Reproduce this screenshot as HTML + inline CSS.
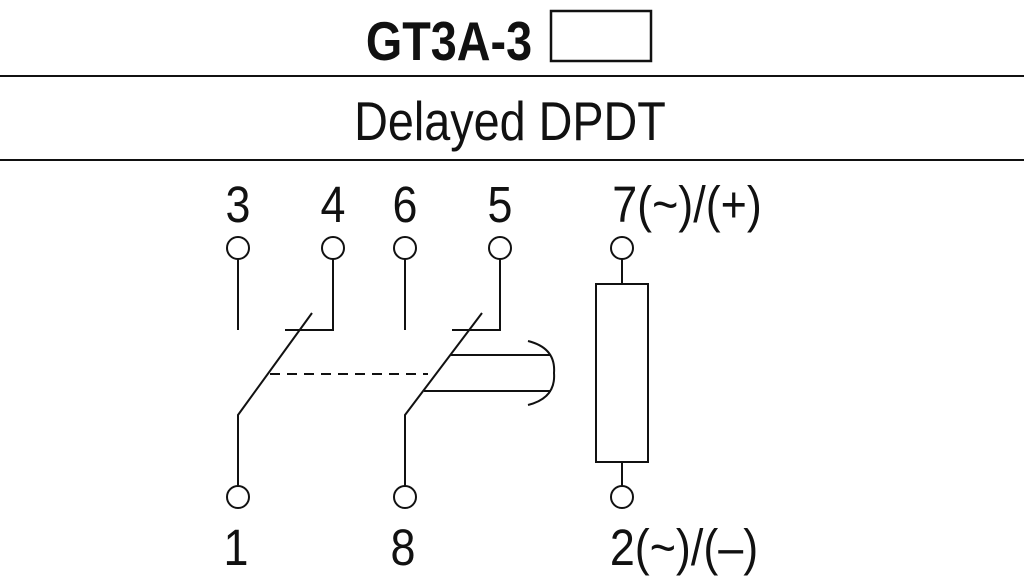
<!DOCTYPE html>
<html><head><style>
body{margin:0;background:#fff;width:1024px;height:581px;overflow:hidden}
text{font-family:"Liberation Sans",sans-serif;fill:#111}
</style></head><body>
<svg width="1024" height="581" viewBox="0 0 1024 581" xmlns="http://www.w3.org/2000/svg">
<text x="449" y="60" font-size="55" font-weight="bold" text-anchor="middle" transform="translate(449,0) scale(0.85,1) translate(-449,0)">GT3A-3</text>
<rect x="551" y="11" width="100" height="50" fill="none" stroke="#111" stroke-width="2.5"/>
<line x1="0" y1="76" x2="1024" y2="76" stroke="#111" stroke-width="2"/>
<text x="510" y="140" font-size="55" text-anchor="middle" transform="translate(510,0) scale(0.85,1) translate(-510,0)">Delayed DPDT</text>
<line x1="0" y1="160" x2="1024" y2="160" stroke="#111" stroke-width="2"/>
<g font-size="51" text-anchor="middle">
<text x="238" y="222" transform="translate(238,0) scale(0.88,1) translate(-238,0)">3</text>
<text x="333" y="222" transform="translate(333,0) scale(0.88,1) translate(-333,0)">4</text>
<text x="405" y="222" transform="translate(405,0) scale(0.88,1) translate(-405,0)">6</text>
<text x="500" y="222" transform="translate(500,0) scale(0.88,1) translate(-500,0)">5</text>
<text x="687" y="222" transform="translate(687,0) scale(0.88,1) translate(-687,0)">7(~)/(+)</text>
<text x="236" y="565" transform="translate(236,0) scale(0.88,1) translate(-236,0)">1</text>
<text x="403" y="565" transform="translate(403,0) scale(0.88,1) translate(-403,0)">8</text>
<text x="684" y="565" transform="translate(684,0) scale(0.88,1) translate(-684,0)">2(~)/(–)</text>
</g>
<g fill="none" stroke="#111" stroke-width="2">
<circle cx="238" cy="248" r="11"/><circle cx="333" cy="248" r="11"/><circle cx="405" cy="248" r="11"/><circle cx="500" cy="248" r="11"/><circle cx="622" cy="248" r="11"/>
<circle cx="238" cy="497" r="11"/><circle cx="405" cy="497" r="11"/><circle cx="622" cy="497" r="11"/>
<line x1="238" y1="259" x2="238" y2="330"/>
<line x1="405" y1="259" x2="405" y2="330"/>
<polyline points="333,259 333,330 285,330"/>
<polyline points="500,259 500,330 452,330"/>
<polyline points="312,313 238,415 238,486"/>
<polyline points="482,313 405,415 405,486"/>
<line x1="270" y1="374" x2="428" y2="374" stroke-dasharray="10,7"/>
<line x1="451" y1="355" x2="551" y2="355"/>
<line x1="424" y1="391" x2="551" y2="391"/>
<path d="M528,341 Q556,348 554,373 Q556,398 528,405"/>
<line x1="622" y1="259" x2="622" y2="284"/>
<rect x="596" y="284" width="52" height="178"/>
<line x1="622" y1="462" x2="622" y2="486"/>
</g>
</svg>
</body></html>
